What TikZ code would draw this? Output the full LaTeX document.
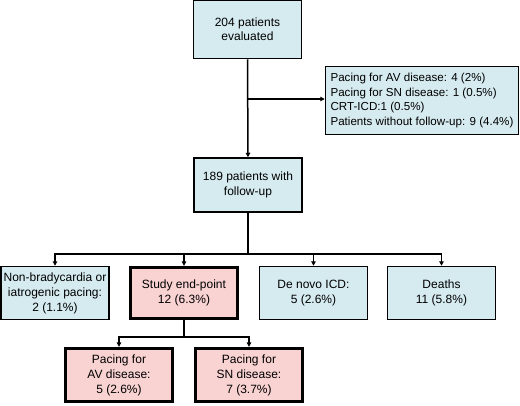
\documentclass[tikz,border=0pt]{standalone}
\usepackage{fontspec}
\setmainfont{Liberation Sans}
\usetikzlibrary{arrows.meta}
\definecolor{boxblue}{HTML}{D6EBF0}
\definecolor{boxpink}{HTML}{F9D2D2}
\tikzset{
  box/.style={draw=black, line width=1.5pt, fill=boxblue, rectangle, align=center,
    inner sep=1pt, font=\fontsize{12}{15}\selectfont},
  hot/.style={box, fill=boxpink, line width=3.3pt},
  link/.style={line width=1.5pt, draw=black},
  arr/.style={link, -{Triangle[width=4.5pt,length=4.5pt]}}
}
\begin{document}
\begin{tikzpicture}[x=1pt,y=-1pt]
\useasboundingbox (0,0) rectangle (520,405);
\node[box, minimum width=108pt, minimum height=58pt, font=\fontsize{12}{14}\selectfont] (top) at (247.5,29.5) {204 patients\\evaluated};
\node[box, minimum width=193pt, minimum height=68pt, align=left, font=\fontsize{11.6}{14.7}\selectfont] (side) at (422,100.5) {Pacing for AV disease: 4 (2\%)\\Pacing for SN disease: 1 (0.5\%)\\CRT-ICD:1 (0.5\%)\\Patients without follow-up: 9 (4.4\%)};
\node[box, minimum width=108pt, minimum height=54pt] (mid) at (248,185) {189 patients with\\follow-up};
\node[box, minimum width=108pt, minimum height=53pt] (r1) at (55,293) {Non-bradycardia or\\iatrogenic pacing:\\2 (1.1\%)};
\node[hot, minimum width=107pt, minimum height=51pt] (r2) at (184,293) {Study end-point\\12 (6.3\%)};
\node[box, minimum width=108pt, minimum height=53pt] (r3) at (313.5,293) {De novo ICD:\\5 (2.6\%)};
\node[box, minimum width=108pt, minimum height=53pt] (r4) at (441.5,293) {Deaths\\11 (5.8\%)};
\node[hot, minimum width=107pt, minimum height=53pt] (b1) at (119,375) {Pacing for\\AV disease:\\5 (2.6\%)};
\node[hot, minimum width=107pt, minimum height=53pt] (b2) at (249,375) {Pacing for\\SN disease:\\7 (3.7\%)};
\coordinate (j0) at (248,99);
\coordinate (j1) at (248,254);
\coordinate (j2) at (184,337);
\draw[arr] (top.south) -- (mid.north);
\draw[arr] (j0) -- (j0 -| side.west);
\draw[link] (mid.south) -- (j1);
\draw[arr] (j1) -| (r1.north);
\draw[arr] (j1) -| (r2.north);
\draw[arr] (j1) -| (r3.north);
\draw[arr] (j1) -| (r4.north);
\draw[link] (r2.south) -- (j2);
\draw[arr] (j2) -| (b1.north);
\draw[arr] (j2) -| (b2.north);
\end{tikzpicture}
\end{document}
